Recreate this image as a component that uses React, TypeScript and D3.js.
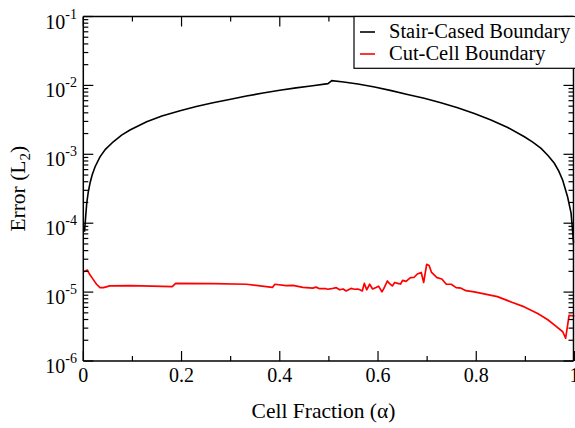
import React from "react";
import * as d3 from "d3";

const stairAlpha = [0.0025, 0.005, 0.007, 0.01, 0.0136, 0.018, 0.024, 0.034, 0.045, 0.061, 0.078, 0.095, 0.129, 0.16, 0.197, 0.23, 0.264, 0.3, 0.332, 0.366, 0.4, 0.433, 0.467, 0.498, 0.506, 0.53, 0.559, 0.593, 0.627, 0.66, 0.694, 0.728, 0.762, 0.796, 0.83, 0.864, 0.898, 0.915, 0.932, 0.946, 0.959, 0.968, 0.976, 0.986, 0.993, 0.996, 0.998];
const stairErr = [7.5e-5, 1.3e-4, 1.95e-4, 2.8e-4, 3.8e-4, 5.0e-4, 6.6e-4, 9.2e-4, 1.18e-3, 1.52e-3, 1.9e-3, 2.25e-3, 2.97e-3, 3.6e-3, 4.3e-3, 4.95e-3, 5.6e-3, 6.3e-3, 7.0e-3, 7.75e-3, 8.5e-3, 9.2e-3, 9.9e-3, 1.06e-2, 1.17e-2, 1.12e-2, 1.05e-2, 9.5e-3, 8.4e-3, 7.4e-3, 6.5e-3, 5.6e-3, 4.75e-3, 3.9e-3, 3.15e-3, 2.45e-3, 1.8e-3, 1.5e-3, 1.22e-3, 9.6e-4, 7.4e-4, 5.7e-4, 4.2e-4, 2.4e-4, 1.4e-4, 7.9e-5, 5.2e-5];

const cutAlpha = [0.0014, 0.008, 0.0136, 0.02, 0.027, 0.034, 0.041, 0.054, 0.095, 0.14, 0.181, 0.188, 0.264, 0.332, 0.385, 0.39, 0.413, 0.427, 0.447, 0.467, 0.474, 0.481, 0.494, 0.498, 0.505, 0.515, 0.522, 0.529, 0.535, 0.545, 0.552, 0.559, 0.563, 0.568, 0.572, 0.577, 0.583, 0.589, 0.596, 0.601, 0.608, 0.612, 0.619, 0.623, 0.629, 0.634, 0.64, 0.646, 0.65, 0.657, 0.666, 0.673, 0.68, 0.688, 0.693, 0.699, 0.704, 0.709, 0.72, 0.73, 0.739, 0.749, 0.759, 0.769, 0.779, 0.796, 0.816, 0.843, 0.871, 0.898, 0.925, 0.945, 0.962, 0.976, 0.982, 0.989, 1.0];
const cutErr = [1.98e-5, 2.09e-5, 1.78e-5, 1.53e-5, 1.3e-5, 1.16e-5, 1.16e-5, 1.23e-5, 1.24e-5, 1.22e-5, 1.2e-5, 1.34e-5, 1.33e-5, 1.3e-5, 1.17e-5, 1.3e-5, 1.24e-5, 1.25e-5, 1.17e-5, 1.14e-5, 1.18e-5, 1.12e-5, 1.12e-5, 1.1e-5, 1.12e-5, 1.16e-5, 1.08e-5, 1.11e-5, 1.04e-5, 1.13e-5, 1.1e-5, 1.11e-5, 1.08e-5, 1.04e-5, 1.34e-5, 1.08e-5, 1.3e-5, 1.11e-5, 1.17e-5, 1.22e-5, 1.01e-5, 1.13e-5, 1.45e-5, 1.34e-5, 1.23e-5, 1.38e-5, 1.34e-5, 1.31e-5, 1.48e-5, 1.43e-5, 1.62e-5, 1.63e-5, 1.83e-5, 1.93e-5, 1.38e-5, 2.53e-5, 2.43e-5, 1.93e-5, 1.62e-5, 1.55e-5, 1.3e-5, 1.3e-5, 1.16e-5, 1.14e-5, 1.05e-5, 1.01e-5, 9.4e-6, 8.6e-6, 7.2e-6, 6.1e-6, 4.9e-6, 4.0e-6, 3.2e-6, 2.66e-6, 2.14e-6, 4.6e-6, 4.5e-6];

const xMajorTicks = [0, 0.2, 0.4, 0.6, 0.8, 1];
const xTickLabels = ["0", "0.2", "0.4", "0.6", "0.8", "1"];
const xMinorTicks = [0.1, 0.3, 0.5, 0.7, 0.9];
const yExponents = [-6, -5, -4, -3, -2, -1];
const seriesNames = ["Stair-Cased Boundary", "Cut-Cell Boundary"];
const seriesColors = ["#000000", "#ff0000"];

const FONT = '"Liberation Serif", "DejaVu Serif", "Times New Roman", serif';
const tStyle = { fontFamily: FONT };

export default function App() {
  const W = 575, H = 428;
  const left = 83.3, right = 574.5, top = 16.5, bottom = 361;
  const x = d3.scaleLinear().domain([0, 1]).range([left, right]);
  const y = d3.scaleLog().domain([1e-6, 1e-1]).range([bottom, top]);

  const line = d3.line<[number, number]>().x(d => x(d[0])).y(d => y(d[1]));
  const stairPts = stairAlpha.map((a, i) => [a, stairErr[i]] as [number, number]);
  const cutPts = cutAlpha.map((a, i) => [a, cutErr[i]] as [number, number]);

  const yMinor: number[] = [];
  for (const e of yExponents.slice(0, -1)) {
    for (let m = 2; m <= 9; m++) yMinor.push(m * Math.pow(10, e));
  }
  const spineRight = 573.5;

  return (
    <svg width={W} height={H} style={{ position: "absolute", left: 0, top: 0, background: "#fff" }}>
      <rect x={0} y={0} width={W} height={H} fill="#fff" />
      {/* curves */}
      <path d={line(stairPts) || ""} fill="none" stroke={seriesColors[0]} strokeWidth={1.6} />
      <path d={line(cutPts) || ""} fill="none" stroke={seriesColors[1]} strokeWidth={1.7} strokeLinejoin="round" />

      {/* frame */}
      <g stroke="#000" strokeWidth={1.5} fill="none">
        <line x1={left} y1={top} x2={left} y2={bottom} />
        <line x1={left} y1={bottom} x2={spineRight} y2={bottom} />
        <line x1={left} y1={top} x2={spineRight} y2={top} />
        <line x1={spineRight} y1={top} x2={spineRight} y2={bottom} />
      </g>

      {/* ticks */}
      <g stroke="#000" strokeWidth={1.2}>
        {xMajorTicks.map(t => (
          <g key={"xM" + t}>
            <line x1={x(t)} x2={x(t)} y1={bottom} y2={bottom - 10} />
            <line x1={x(t)} x2={x(t)} y1={top} y2={top + 10} />
          </g>
        ))}
        {xMinorTicks.map(t => (
          <g key={"xm" + t}>
            <line x1={x(t)} x2={x(t)} y1={bottom} y2={bottom - 5} />
            <line x1={x(t)} x2={x(t)} y1={top} y2={top + 5} />
          </g>
        ))}
        {yExponents.map(e => (
          <g key={"yM" + e}>
            <line x1={left} x2={left + 10} y1={y(Math.pow(10, e))} y2={y(Math.pow(10, e))} />
            <line x1={spineRight} x2={spineRight - 10} y1={y(Math.pow(10, e))} y2={y(Math.pow(10, e))} />
          </g>
        ))}
        {yMinor.map((v, i) => (
          <g key={"ym" + i}>
            <line x1={left} x2={left + 5} y1={y(v)} y2={y(v)} />
            <line x1={spineRight} x2={spineRight - 5} y1={y(v)} y2={y(v)} />
          </g>
        ))}
      </g>

      {/* x tick labels */}
      {xMajorTicks.map((t, i) => (
        <text key={"xl" + t} x={x(t)} y={bottom + 21} fontSize={20} textAnchor="middle" fill="#000" style={tStyle}>
          {xTickLabels[i]}
        </text>
      ))}

      {/* y tick labels */}
      {yExponents.map(e => (
        <text key={"yl" + e} x={77} y={y(Math.pow(10, e)) + 12} fontSize={20} textAnchor="end" fill="#000" style={tStyle}>
          10
          <tspan dy={-10} fontSize={14}>{String(e)}</tspan>
        </text>
      ))}

      {/* axis titles */}
      <text x={323.5} y={418} fontSize={21.5} textAnchor="middle" fill="#000" style={tStyle}>
        Cell Fraction (α)
      </text>
      <text transform={`translate(25, ${(top + bottom) / 2}) rotate(-90)`} fontSize={21.5} textAnchor="middle" fill="#000" style={tStyle}>
        Error (L<tspan dy={5} fontSize={15}>2</tspan><tspan dy={-5}>)</tspan>
      </text>

      {/* legend */}
      <rect x={354} y={top} width={230} height={68.3 - top} fill="#fff" stroke="#000" strokeWidth={1.2} />
      {seriesNames.map((n, i) => (
        <g key={n}>
          <line x1={360} x2={375} y1={32 + i * 22} y2={32 + i * 22} stroke={seriesColors[i]} strokeWidth={1.6} />
          <text x={389} y={37.5 + i * 22} fontSize={20.5} fill="#000" style={tStyle}>{n}</text>
        </g>
      ))}
    </svg>
  );
}
